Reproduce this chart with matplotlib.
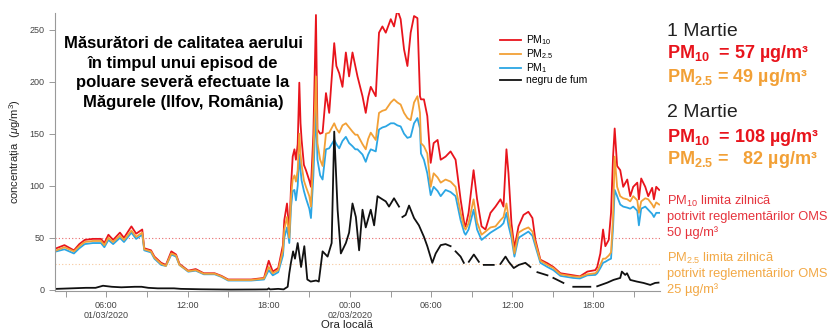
import numpy as np
import matplotlib
matplotlib.use("Agg")
import matplotlib.pyplot as plt

plt.rcParams['font.family'] = ['Liberation Sans', 'DejaVu Sans']
plt.rcParams['mathtext.fontset'] = 'custom'
plt.rcParams['mathtext.rm'] = 'Liberation Sans'
plt.rcParams['mathtext.it'] = 'Liberation Sans:italic'
plt.rcParams['mathtext.bf'] = 'Liberation Sans:bold'
plt.rcParams['mathtext.default'] = 'regular'

nan = np.nan

# ore de la 01/03/2020 00:00
pm_t = [2.3, 2.9, 3.6, 4.0, 4.4, 5.0, 5.6, 5.85, 6.15, 6.5, 7.0, 7.3, 7.85, 8.2, 8.65, 8.8,
        9.3, 9.55, 10.05, 10.4, 10.8, 11.15, 11.4, 12.05, 12.6, 13.2, 14.0, 14.5, 15.0, 16.0,
        16.7, 17.65, 18.0, 18.3, 18.7, 19.05, 19.15, 19.35, 19.52, 19.65, 19.77, 19.9, 20.01,
        20.14, 20.26, 20.35, 20.43, 20.6, 20.75, 21.0, 21.12, 21.3, 21.49, 21.6, 21.8, 21.98,
        22.23, 22.47, 22.84, 23.0, 23.21, 23.45, 23.7, 23.94, 24.19, 24.4, 24.56, 24.93, 25.17,
        25.35, 25.54, 25.91, 26.15, 26.4, 26.65, 27.02, 27.26, 27.51, 27.75, 28.0, 28.25, 28.49,
        28.74, 28.99, 29.18, 29.25, 29.47, 29.72, 29.97, 30.19, 30.48, 30.71, 31.07, 31.44, 31.81,
        32.18, 32.45, 32.55, 32.77, 33.14, 33.4, 33.73, 34.02, 34.39, 34.76, 35.13, 35.35, 35.57,
        35.72, 35.94, 36.16, 36.46, 36.83, 37.19, 37.49, 37.71, 38.08, 38.6, 39.04, 39.56, 40.5,
        41.0, 41.55, 42.14, 42.28, 42.51, 42.71, 42.88, 43.13, 43.3, 43.45, 43.57, 43.75, 43.98,
        44.2, 44.5, 44.72, 44.94, 45.24, 45.36, 45.53, 45.83, 46.05, 46.34, 46.47, 46.64, 46.86]

pm10 = [40, 43, 38, 44, 48, 49, 49, 45, 53, 48, 55, 50, 61, 54, 58, 40,
        38, 32, 26, 24, 37, 34, 25, 18.5, 20, 16, 16, 13.5, 10, 10,
        10, 11.5, 28, 17.6, 21, 43, 67, 83, 55, 100, 128, 135, 125,
        140, 199, 160, 144, 120, 115, 105, 99, 150, 264, 154, 150, 151,
        189, 170, 237, 215, 208, 195, 228, 205, 228, 215, 205, 186, 170,
        185, 195, 186, 247, 253, 247, 260, 253, 269, 260, 231, 215, 247,
        263, 261, 186, 183, 183, 167, 122, 141, 144, 125, 128, 133, 125,
        87, 64, 61, 74, 115, 87, 61, 58, 74, 80, 87, 80, 135,
        112, 64, 40, 61, 72, 75, 69, 48, 29, 25.6, 22, 16, 14,
        13, 17.6, 19, 22, 35, 58, 42, 48, 74, 128, 155, 119, 115,
        99, 106, 90, 99, 103, 87, 107, 99, 90, 98, 87, 99, 96]

pm25 = [38, 41, 37, 42, 46, 47, 47, 43, 50, 46, 52, 48, 57, 51, 55, 39,
        37, 31, 25, 23, 35, 33, 24, 18, 19, 15.5, 15.5, 13, 9.5, 9.5,
        9.5, 11, 22, 16, 19, 38, 58, 70, 50, 90, 106, 110, 104,
        115, 150, 130, 120, 105, 99, 90, 80, 130, 205, 141, 125, 119,
        150, 151, 160, 155, 151, 158, 160, 156, 152, 149, 149, 140, 135,
        145, 151, 144, 170, 172, 173, 180, 183, 180, 178, 170, 165, 163,
        180, 186, 170, 141, 138, 131, 99, 112, 108, 103, 106, 104, 99,
        74, 60, 58, 64, 87, 65, 53, 56, 60, 61, 67, 70, 83,
        70, 55, 35, 55, 58, 60, 56, 45, 28, 24, 21, 15, 13,
        12.5, 15, 16, 18, 24, 30, 30, 33, 36, 70, 128, 99, 90,
        88, 87, 85, 90, 86, 74, 85, 88, 87, 82, 79, 84, 82]

pm1 = [37, 39, 35, 40, 44, 45, 45, 41, 48, 44, 50, 46, 55, 49, 53, 38,
       36, 30, 24, 23, 34, 32, 24, 17.5, 18.5, 15, 15, 12.5, 9, 9,
       9, 10, 19, 14, 17, 33, 50, 60, 45, 80, 95, 96, 86,
       100, 130, 115, 105, 95, 88, 78, 69, 110, 175, 125, 110, 106,
       135, 136, 144, 140, 136, 143, 147, 141, 138, 135, 135, 130, 123,
       130, 135, 133, 154, 156, 157, 160, 160, 158, 157, 150, 146, 147,
       160, 165, 155, 131, 125, 112, 91, 99, 95, 90, 96, 94, 90,
       67, 55, 53, 58, 77, 58, 48, 51, 55, 58, 61, 64, 74,
       62, 50, 32, 50, 53, 56, 52, 42, 26, 22, 19, 13.5, 11.5,
       11, 14, 14.4, 16, 21, 26, 27, 29, 30, 60, 96, 90, 82,
       80, 79, 78, 80, 76, 62, 78, 80, 77, 73, 70, 74, 74]

bc_t = [2.3, 3.4, 4.5, 5.2, 5.75, 6.4, 7.1, 8.1, 8.6, 9.1, 9.8, 11.0, 11.5, 13.0, 15.2, 17.0,
        17.9, 18.0, 18.1, 18.7, 19.1, 19.4, 19.52, 19.64, 19.8, 19.94, 20.14, 20.39, 20.63,
        20.85, 21.1, 21.5, 21.7, 21.98, 22.35, 22.65, 22.84, 23.09, 23.33, 23.7, 23.94, 24.19,
        24.44, 24.68, 24.93, 25.17, 25.54, 25.79, 26.04, 26.4, 26.65, 26.89, 27.26, 27.63, 27.75,
        27.88, 28.12, 28.37, 28.74, 29.1, 29.47, 29.72, 30.09, 30.34, 30.71, 31.07, 31.44, 31.6,
        31.81, 32.18, 32.42, 32.6, 32.79, 33.16, 33.53, 33.7, 33.9, 34.63, 34.8, 35.13, 35.5,
        35.74, 36.11, 36.48, 36.97, 37.34, 37.6, 37.86, 38.6, 38.8, 39.04, 39.78, 40.1, 40.51,
        41.77, 42.0, 42.28, 43.03, 43.48, 43.98, 44.1, 44.35, 44.48, 44.72, 45.21, 45.7, 46.2,
        46.56, 46.81]

bc = [1, 1.5, 2, 2, 4, 3, 2.5, 3, 3, 2, 1.5, 1.5, 1, 0.6, 0.3, 0.4,
      0.5, 1.5, 0.5, 1, 0.5, 3, 16, 26, 37, 30, 45, 22, 42,
      10, 8, 9, 8, 37, 32, 45, 152, 77, 35, 45, 55, 83,
      70, 38, 77, 60, 77, 62, 90, 87, 85, 80, 88, 80, nan,
      70, 72, 81, 69, 62, 51, 42, 26, 35, 43, 44, 42, nan,
      37, 32, 26, nan, 27, 34, 27, nan, 24, 24, nan, 25, 32,
      27, 21, 24, 26, 22, nan, 17, 14, nan, 11.5, 6.7, nan, 3,
      3, nan, 3.5, 7, 9.6, 11.5, 17.6, 14.4, 16, 9.6, 8, 6.7, 4.8,
      6.7, 7]

red = '#e8141c'
orange = '#f2a036'
blue = '#2ba6e4'

fig = plt.figure(figsize=(8.33, 3.31), dpi=100)
ax = fig.add_axes([0.066, 0.121, 0.726, 0.84])

ax.axhline(50, color='#e86a6a', lw=0.8, ls=(0, (1, 2)))
ax.axhline(25, color='#f7c79c', lw=0.8, ls=(0, (1, 2)))

l10, = ax.plot(pm_t, pm10, color=red, lw=1.3)
l1, = ax.plot(pm_t, pm1, color=blue, lw=1.3)
l25, = ax.plot(pm_t, pm25, color=orange, lw=1.3)
lbc, = ax.plot(bc_t, bc, color='#111111', lw=1.3)

ax.set_xlim(2.2, 46.9)
ax.set_ylim(-1, 266)
ax.set_yticks([0, 50, 100, 150, 200, 250])
ax.set_xticks([6, 12, 18, 24, 30, 36, 42])
ax.set_xticklabels(['06:00\n01/03/2020', '12:00', '18:00', '00:00\n02/03/2020',
                    '06:00', '12:00', '18:00'], linespacing=1.15)
ax.set_xticks([3, 9, 15, 21, 27, 33, 39, 45], minor=True)
for s in ['top', 'right']:
    ax.spines[s].set_visible(False)
for s in ['left', 'bottom']:
    ax.spines[s].set_color('#999999')
    ax.spines[s].set_linewidth(0.8)
ax.tick_params(which='both', direction='out', length=4, width=0.7, color='#999999',
               labelsize=6.5, labelcolor='#444444')
ax.set_ylabel('concentrația  ($\\mathit{\\mu}$g/m$^3$)', fontsize=8, color='#222222', labelpad=5)

def ftext(x, y, s, **kw):
    fig.text(x / 833, 1 - y / 331, s, **kw)

ftext(347, 328, 'Ora locală', ha='center', va='baseline', fontsize=8.2, color='#222222')

ax.legend([l10, l25, l1, lbc], ['PM$_{10}$', 'PM$_{2.5}$', 'PM$_1$', 'negru de fum'],
          loc='upper left', bbox_to_anchor=(495 / 833, 1 - 28 / 331),
          bbox_transform=fig.transFigure, frameon=False, fontsize=7.5,
          handlelength=2.0, handletextpad=0.5, labelspacing=0.02, borderpad=0)

ftext(183, 36, 'Măsurători de calitatea aerului\nîn timpul unui episod de\n'
      'poluare severă efectuate la\nMăgurele (Ilfov, România)',
      ha='center', va='top', fontsize=12, fontweight='bold', linespacing=1.38)

ftext(667, 31, '1 Martie', fontsize=14, va='center', color='#222222')
ftext(667, 54, 'PM$_{10}$  = 57 µg/m³', fontsize=13, fontweight='bold', va='center', color=red)
ftext(667, 78, 'PM$_{2.5}$ = 49 µg/m³', fontsize=13, fontweight='bold', va='center', color=orange)
ftext(667, 113, '2 Martie', fontsize=14, va='center', color='#222222')
ftext(667, 137, 'PM$_{10}$  = 108 µg/m³', fontsize=13, fontweight='bold', va='center', color=red)
ftext(667, 160, 'PM$_{2.5}$ =   82 µg/m³', fontsize=13, fontweight='bold', va='center', color=orange)

ftext(667, 194, 'PM$_{10}$ limita zilnică\npotrivit reglementărilor OMS\n50 µg/m³',
      fontsize=9.3, va='top', color='#e5333c', linespacing=1.25)
ftext(667, 251, 'PM$_{2.5}$ limita zilnică\npotrivit reglementărilor OMS\n25 µg/m³',
      fontsize=9.3, va='top', color='#f2a845', linespacing=1.25)

fig.savefig('out.png', dpi=100)
